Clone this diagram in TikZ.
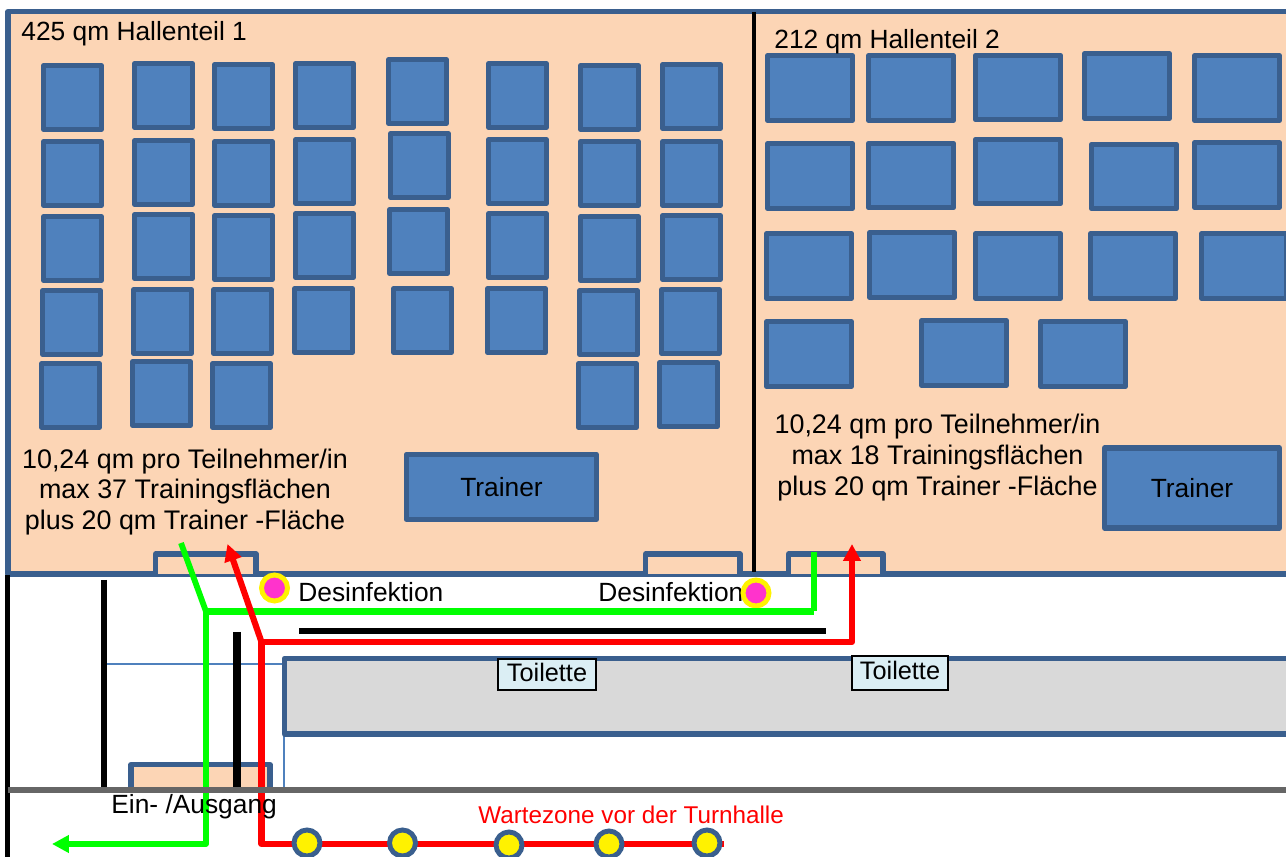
\documentclass[tikz,border=0pt]{standalone}
\usepackage{fontspec}
\setmainfont{Liberation Sans}
\usepackage{xcolor}
\usetikzlibrary{positioning}
\usetikzlibrary{arrows.meta}
\usetikzlibrary{calc}
\definecolor{hallfill}{HTML}{FCD5B5}
\definecolor{edgeblue}{HTML}{3A5F8E}
\definecolor{deskblue}{HTML}{4F81BD}
\definecolor{toiletgrey}{HTML}{D9D9D9}
\definecolor{labelblue}{HTML}{DBEEF4}
\definecolor{floorgrey}{HTML}{666666}
\definecolor{pathgreen}{HTML}{00FF00}
\definecolor{pathred}{HTML}{FF0000}
\definecolor{dotpink}{HTML}{FF33CC}
\tikzset{
  room/.style={draw=edgeblue,line width=3pt,line join=round},
  smalldesk/.style={draw=edgeblue,fill=deskblue,line width=3pt,line join=round,inner sep=0pt,minimum width=1.15cm,minimum height=1.28cm},
  bigdesk/.style={smalldesk,minimum width=1.7cm,minimum height=1.29cm},
  trainerdesk/.style={smalldesk,font=\fontsize{15}{18}\selectfont},
  txt/.style={inner sep=0pt,font=\fontsize{15.3}{17.6}\selectfont,align=center},
  plain/.style={inner sep=0pt,font=\fontsize{15}{17.6}\selectfont},
  wall/.style={black,line width=3pt},
  thinwall/.style={deskblue,line width=0.7pt},
  toiletlabel/.style={draw=black,fill=labelblue,line width=0.7pt,inner sep=0pt,text depth=3pt,font=\fontsize{14.4}{16}\selectfont},
  wayin/.style={pathred,line width=3.5pt,line join=round},
  wayout/.style={pathgreen,line width=3.3pt,line join=round},
  waitdot/.style={circle,draw=edgeblue,fill=yellow,line width=2.8pt,inner sep=0pt,minimum size=0.52cm},
  disinfect/.style={circle,draw=yellow,fill=dotpink,line width=2.8pt,inner sep=0pt,minimum size=0.52cm},
}
\begin{document}
\begin{tikzpicture}[x=0.02cm,y=-0.02cm]
\clip (0,0) rectangle (1286,857);
% halls
\draw[room,fill=hallfill] (8,11.5) rectangle (1300,574);
\draw[wall,line width=2pt] (754,12) -- (754,572);
\draw[room,fill=hallfill] (155.5,574) |- (256,554) -- (256,574);
\draw[room,fill=hallfill] (645.5,574) |- (740,554) -- (740,574);
\draw[room,fill=hallfill] (788.5,574) |- (883,554) -- (883,574);
% small desks, hall 1
\foreach \cx/\cy [count=\i] in {
  72.5/97.5,72.5/173.5,72.5/248.5,71.5/322.5,70.5/395.5,
  163.5/95.5,163.5/172.5,163.5/246.5,162.5/321.5,161.5/393.5,
  243.5/96.5,243.5/173.5,243.5/247.5,242.5/321.5,241.5/395.5,
  324.5/95.5,324.5/171.5,324.5/245.5,323.5/320.5,
  417.5/91.5,419.5/165.5,418.5/241.5,422.5/320.5,
  517.5/95.5,517.5/171.5,517.5/245.5,516.5/320.5,
  609.5/97.5,609.5/173.5,609.5/248.5,608.5/322.5,607.5/395.5,
  691.5/96.5,691.5/173.5,691.5/247.5,690.5/321.5,688.5/394.5}
  \node[smalldesk] (s\i) at (\cx,\cy) {};
% big desks, hall 2
\foreach \cx/\cy [count=\i] in {
  810/88,911/88,1018/87.5,1127/86,1237/88,
  810/176,911/175.5,1018/171.5,1134/176.5,1237/175,
  809/266,912/265,1018/266,1133/266,1244/266,
  809/354,964/353,1083/354}
  \node[bigdesk] (b\i) at (\cx,\cy) {};
\node[trainerdesk,minimum width=3.8cm,minimum height=1.3cm] (trainer1) at (501.5,487) {Trainer};
\node[trainerdesk,minimum width=3.5cm,minimum height=1.6cm] (trainer2) at (1192,488) {Trainer};
% hall texts
\node[plain,anchor=west] (name1) at (21,34) {425 qm Hallenteil 1};
\node[plain,anchor=west] (name2) at (774,42) {212 qm Hallenteil 2};
\node[txt] (info1) at (185,492) {10,24 qm pro Teilnehmer/in\\max 37 Trainingsflächen\\plus 20 qm Trainer -Fläche};
\node[txt] (info2) at (937.5,457.5) {10,24 qm pro Teilnehmer/in\\max 18 Trainingsflächen\\plus 20 qm Trainer -Fläche};
% corridor
\draw[thinwall] (104,664) -- (284,664);
\draw[thinwall] (284,735) -- (284,790);
\node[room,fill=toiletgrey,inner sep=0pt,outer sep=0pt,minimum width=20.4cm,minimum height=1.51cm,anchor=north west] (toilets) at (284.5,658.5) {};
\draw[room,fill=hallfill] (131,790) |- (270,764.5) -- (270,790);
\draw[wall] (7.5,575) -- (7.5,857);
\draw[wall,line width=3.6pt] (104,580) -- (104,790);
\draw[wall,line width=4.4pt] (237,632) -- (237,790);
\draw[wall] (299,631) -- (826,631);
\node[toiletlabel,minimum width=1.96cm,minimum height=0.62cm] (wc1) at (547,674.5) {Toilette};
\node[toiletlabel,minimum width=1.92cm,minimum height=0.68cm] (wc2) at (900,673) {Toilette};
\node[plain,anchor=west] (dis1) at (298,592) {Desinfektion};
\node[plain,anchor=west] (dis2) at (598,592) {Desinfektion};
\node[txt,anchor=west,text=pathred,font=\fontsize{13.8}{16}\selectfont] (wait) at (478,815) {Wartezone vor der Turnhalle};
\node[disinfect] (dot1) at (274.5,588) {};
\node[disinfect] (dot2) at (756,593) {};
% way out
\coordinate (o1) at (181,543);
\coordinate (o2) at (206,611.5);
\coordinate (o3) at (814,611.5);
\coordinate (o4) at (814,552);
\coordinate (o5) at (206,844);
\coordinate (o6) at (52,844);
\draw[wayout] (o1) -- (o2);
\draw[wayout,line width=4pt] (o2) -- (o3);
\draw[wayout] (o3) -- (o4);
\draw[wayout,-{Triangle[length=0.34cm,width=0.34cm]}] (o2) -- (o5) -- (o6);
% way in
\coordinate (i1) at (852,544);
\coordinate (i2) at (852,642);
\coordinate (i3) at (261.5,642);
\coordinate (i4) at (227.5,544);
\coordinate (i5) at (261.5,844);
\coordinate (i6) at (724,844);
\draw[wayin,-{Triangle[length=0.34cm,width=0.34cm]}] (i3) -- (i2) -- (i1);
\draw[wayin,-{Triangle[length=0.34cm,width=0.34cm]}] (i3) -- (i4);
\draw[wayin] (i3) -- (i5) -- (i6);
% floor line and door
\draw[floorgrey,line width=3.4pt] (8,790) -- (1286,790);
\node[plain,anchor=west] (door) at (111,807) {Ein- /Ausgang};
% waiting places
\node[waitdot] (w1) at (307,843) {};
\node[waitdot] (w2) at (402.5,843) {};
\node[waitdot] (w3) at (509,845) {};
\node[waitdot] (w4) at (609,844) {};
\node[waitdot] (w5) at (707,843) {};
\end{tikzpicture}
\end{document}
